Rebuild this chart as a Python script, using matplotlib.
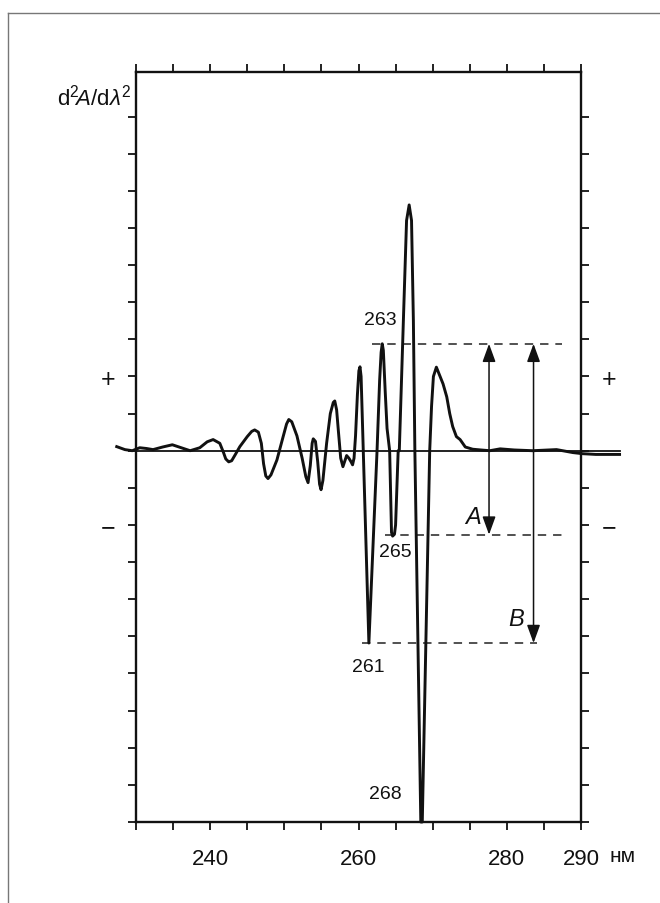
import matplotlib
matplotlib.use("Agg")
import matplotlib.pyplot as plt
from matplotlib.lines import Line2D

plt.rcParams['font.family'] = ['Liberation Sans', 'DejaVu Sans']
plt.rcParams['mathtext.fontset'] = 'custom'
plt.rcParams['mathtext.rm'] = 'Liberation Sans'
plt.rcParams['mathtext.it'] = 'Liberation Sans:italic'

# ---- data ----
wavelength = [227.4, 228.5, 229.5, 230.5, 231.4, 232.3, 233.6, 234.9, 236.1, 237.3,
              238.6, 239.6, 240.4, 241.3, 241.8, 242.1, 242.5, 242.9, 243.4, 244.0,
              245.0, 245.6, 246.0, 246.5, 246.9, 247.2, 247.5, 247.8, 248.2, 249.0,
              249.8, 250.3, 250.6, 251.0, 251.7, 252.4, 252.9, 253.2, 253.5, 253.75,
              253.9, 254.2, 254.5, 254.75, 254.95, 255.2, 255.7, 256.2, 256.6, 256.8,
              257.05, 257.3, 257.6, 257.9, 258.2, 258.4, 258.7, 259.0, 259.2, 259.4,
              259.6, 259.85, 260.05, 260.2, 260.35, 260.6, 261.4, 262.5, 262.85, 263.05,
              263.2, 263.35, 263.6, 263.85, 264.2, 264.45, 264.6, 264.85, 265.0, 265.35,
              265.5, 266.05, 266.48, 266.83, 267.15, 267.4, 267.6, 268.4, 268.6, 269.6,
              269.85, 270.1, 270.5, 270.9, 271.4, 271.9, 272.3, 272.7, 273.2, 273.7,
              274.4, 275.4, 276.5, 277.7, 279.1, 281.0, 283.5, 286.7, 288.9, 290.2,
              292.0, 295.2]
d2A = [0.11, 0.03, 0.0, 0.08, 0.06, 0.03, 0.10, 0.16, 0.08, 0.0,
       0.08, 0.24, 0.30, 0.20, -0.05, -0.22, -0.30, -0.27, -0.10, 0.11,
       0.38, 0.52, 0.56, 0.50, 0.20, -0.35, -0.68, -0.75, -0.65, -0.25,
       0.35, 0.72, 0.84, 0.78, 0.40, -0.20, -0.70, -0.86, -0.40, 0.20,
       0.32, 0.25, -0.30, -0.90, -1.05, -0.80, 0.20, 1.00, 1.30, 1.34,
       1.10, 0.50, -0.20, -0.43, -0.25, -0.13, -0.20, -0.30, -0.38, -0.20,
       0.40, 1.50, 2.15, 2.26, 2.00, 0.30, -5.18, 0.0, 1.90, 2.65,
       2.88, 2.70, 1.60, 0.60, 0.0, -2.20, -2.30, -2.25, -2.00, 0.0,
       0.0, 3.50, 6.20, 6.62, 6.20, 3.50, 0.0, -10.0, -10.0, 0.0,
       1.20, 2.00, 2.25, 2.05, 1.80, 1.45, 1.00, 0.65, 0.38, 0.30,
       0.10, 0.04, 0.02, 0.0, 0.05, 0.02, 0.0, 0.03, -0.05, -0.08,
       -0.10, -0.10]

peak_labels = ["263", "265", "261", "268"]
peak_label_x = [263.0, 264.9, 261.3, 263.6]
peak_label_y = [3.53, -2.72, -5.80, -9.22]

level_263 = 2.88
level_265 = -2.26
level_261 = -5.18
dash_x_start = [261.8, 263.6, 260.5]
dash_x_end = [287.4, 287.4, 284.0]
arrow_A_x = 277.6
arrow_B_x = 283.6

x_ticks = [230, 235, 240, 245, 250, 255, 260, 265, 270, 275, 280, 285, 290]
x_tick_labels = ["", "", "240", "", "", "", "260", "", "", "", "280", "", "290"]
y_ticks = list(range(-10, 10))
y_tick_labels = ["+" if v == 2 else ("\u2212" if v == -2 else "") for v in y_ticks]

# ---- figure ----
fig = plt.figure(figsize=(6.6, 9.04), dpi=100)
ax = fig.add_axes([136 / 660, 81 / 904, 445 / 660, 750 / 904])
ax.set_xlim(230, 290)
ax.set_ylim(-10, 10.2)

for s in ax.spines.values():
    s.set_linewidth(1.7)
    s.set_color('#111111')

ax.set_xticks(x_ticks)
ax.set_xticklabels(x_tick_labels, fontsize=16)
ax.set_yticks(y_ticks)
ax.set_yticklabels(y_tick_labels, fontsize=18)
ax.tick_params(axis='x', which='both', direction='out', length=6, width=1.3,
               top=True, bottom=True, pad=13, colors='#111111')
ax.tick_params(axis='y', which='both', direction='out', length=6, width=1.3,
               left=True, right=True, labelleft=True, labelright=True, pad=9,
               colors='#111111')

# baseline
ax.plot([230, 295.2], [0, 0], color='#111111', lw=1.3, clip_on=False, zorder=2)
# curve
ax.plot(wavelength, d2A, color='#111111', lw=2.1, clip_on=False, zorder=3,
        solid_joinstyle='round')

# dashed reference lines
for lvl, xs, xe in zip([level_263, level_265, level_261], dash_x_start, dash_x_end):
    ax.plot([xs, xe], [lvl, lvl], color='#222222', lw=1.1,
            linestyle=(0, (5.5, 4.5)), zorder=2)

# arrows
arrow_kw = dict(arrowstyle='<|-|>,head_length=0.55,head_width=0.2',
                color='#111111', lw=1.1, shrinkA=0, shrinkB=0, mutation_scale=20)
ax.annotate('', xy=(arrow_A_x, level_263), xytext=(arrow_A_x, level_265),
            arrowprops=arrow_kw)
ax.annotate('', xy=(arrow_B_x, level_263), xytext=(arrow_B_x, level_261),
            arrowprops=arrow_kw)
ax.text(arrow_A_x - 2.2, -1.78, 'A', fontsize=17, style='italic',
        ha='center', va='center', color='#111111')
ax.text(arrow_B_x - 2.4, -4.53, 'B', fontsize=17, style='italic',
        ha='center', va='center', color='#111111')

for lab, lx, ly in zip(peak_labels, peak_label_x, peak_label_y):
    ax.text(lx, ly, lab, fontsize=14, ha='center', va='center', color='#111111')

# axis label
ax.text(229.4, 9.55, r'$\mathrm{d}^2\!A/\mathrm{d}\lambda^2$', fontsize=16,
        ha='right', va='center', color='#111111', clip_on=False)
ax.text(293.9, -0.045, 'нм', fontsize=15, ha='left', va='center',
        transform=ax.get_xaxis_transform(), color='#111111')

# outer border (top and left edges)
fig.add_artist(Line2D([8 / 660, 8 / 660], [0, 1 - 14 / 904], transform=fig.transFigure,
                      color='#777777', lw=1.0))
fig.add_artist(Line2D([8 / 660, 1], [1 - 14 / 904, 1 - 14 / 904], transform=fig.transFigure,
                      color='#777777', lw=1.0))

fig.savefig('out.png', dpi=100)
